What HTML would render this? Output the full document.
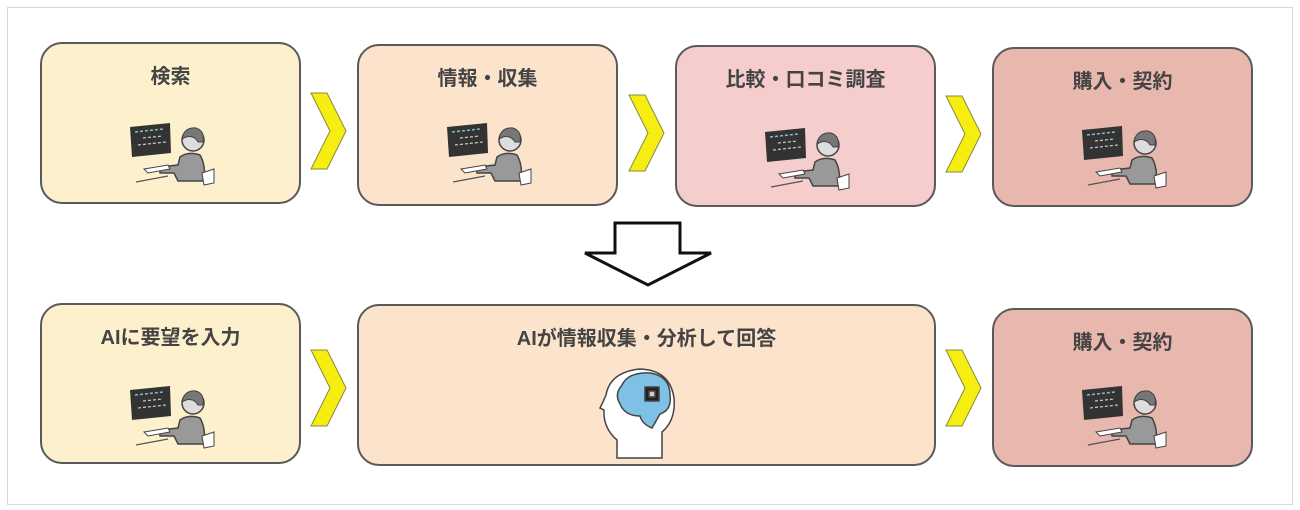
<!DOCTYPE html>
<html><head><meta charset="utf-8"><style>
body{margin:0;width:1300px;height:510px;background:#fff;position:relative;overflow:hidden;font-family:"Liberation Sans","Noto Sans CJK JP",sans-serif}
.frame{position:absolute;left:7px;top:7px;width:1284px;height:496px;border:1.5px solid #d8d8d8}
.b{position:absolute;border:2px solid #5a5a5a;border-radius:22px;box-sizing:border-box}
.t{position:absolute;left:0;right:0;top:16px;text-align:center;font-size:20px;font-weight:bold;color:#444}
svg.abs{position:absolute;left:0;top:0}
</style></head><body>
<div class="frame"></div>
<svg width="0" height="0" style="position:absolute">
<defs>
<symbol id="person" viewBox="0 0 100 80">
<polygon points="12,12 52,8 53,38 14,42" fill="#333"/>
<line x1="17" y1="17" x2="45" y2="14" stroke="#8bc" stroke-width="1.5" stroke-dasharray="3 2"/>
<line x1="25" y1="23" x2="45" y2="21" stroke="#ccc" stroke-width="1.2" stroke-dasharray="3 2"/>
<line x1="20" y1="30" x2="48" y2="27" stroke="#ccc" stroke-width="1.2" stroke-dasharray="3 2"/>
<circle cx="75" cy="25" r="11" fill="#ddd" stroke="#444" stroke-width="1.5"/>
<path d="M64,24 Q66,12 78,13 Q87,16 85,27 L80,27 Q76,20 68,22 Z" fill="#777" stroke="#444"/>
<path d="M62,42 Q70,36 82,40 Q88,50 86,66 L60,66 L56,58 L42,58 L42,52 L60,50 Z" fill="#999" stroke="#444" stroke-width="1.5"/>
<path d="M84,58 L96,54 L96,68 L86,70 Z" fill="#fff" stroke="#444"/>
<path d="M26,54 L50,50 L52,54 L30,58 Z" fill="#fff" stroke="#444"/>
<line x1="18" y1="67" x2="50" y2="61" stroke="#555" stroke-width="1.2"/>
</symbol>
</defs>
</svg>

<div class="b" style="left:40px;top:42px;width:261px;height:162px;background:#fdf0cd"><div class="t">検索</div></div>
<div class="b" style="left:357px;top:44px;width:261px;height:162px;background:#fce3cc"><div class="t">情報・収集</div></div>
<div class="b" style="left:675px;top:45px;width:261px;height:162px;background:#f5cdcc"><div class="t">比較・口コミ調査</div></div>
<div class="b" style="left:992px;top:47px;width:261px;height:160px;background:#e8b8ae"><div class="t">購入・契約</div></div>

<div class="b" style="left:40px;top:303px;width:261px;height:161px;background:#fdf0cd"><div class="t">AIに要望を入力</div></div>
<div class="b" style="left:357px;top:304px;width:579px;height:162px;background:#fce3cc"><div class="t">AIが情報収集・分析して回答</div></div>
<div class="b" style="left:992px;top:308px;width:261px;height:159px;background:#e8b8ae"><div class="t">購入・契約</div></div>

<svg class="abs" width="1300" height="510">
<g fill="#f5ee10" stroke="#8a8a40" stroke-width="1">
<polygon points="311,93 327,93 346,131 327,169 311,169 330,131"/>
<polygon points="629,95 645,95 664,133 645,171 629,171 648,133"/>
<polygon points="946,96 962,96 981,134 962,172 946,172 965,134"/>
<polygon points="311,350 327,350 346,388 327,426 311,426 330,388"/>
<polygon points="946,350 962,350 981,388 962,426 946,426 965,388"/>
</g>
<polygon points="615,223 680,223 680,253 711,253 648,285 585,253 615,253" fill="#fff" stroke="#111" stroke-width="3" stroke-linejoin="miter"/>
<use href="#person" x="118" y="115" width="100" height="80"/>
<use href="#person" x="435" y="115" width="100" height="80"/>
<use href="#person" x="753" y="120" width="100" height="80"/>
<use href="#person" x="1070" y="118" width="100" height="80"/>
<use href="#person" x="118" y="378" width="100" height="80"/>
<use href="#person" x="1070" y="378" width="100" height="80"/>
<g stroke="#444" stroke-width="1.5">
<path d="M617,458 L617,440 Q603,428 604,410 L600,408 Q604,400 606,395 Q610,372 640,369 Q670,370 674,398 Q676,420 662,432 L662,458 Z" fill="#fff"/>
<path d="M622,385 Q628,372 650,373 Q670,376 670,395 Q672,410 660,414 L652,428 Q642,424 640,416 Q625,416 620,404 Q614,394 622,385 Z" fill="#7fc0e6"/>
<rect x="645" y="387" width="14" height="14" fill="#222"/>
<rect x="649" y="391" width="6" height="6" fill="#ccc"/>
</g>
</svg>
</body></html>
